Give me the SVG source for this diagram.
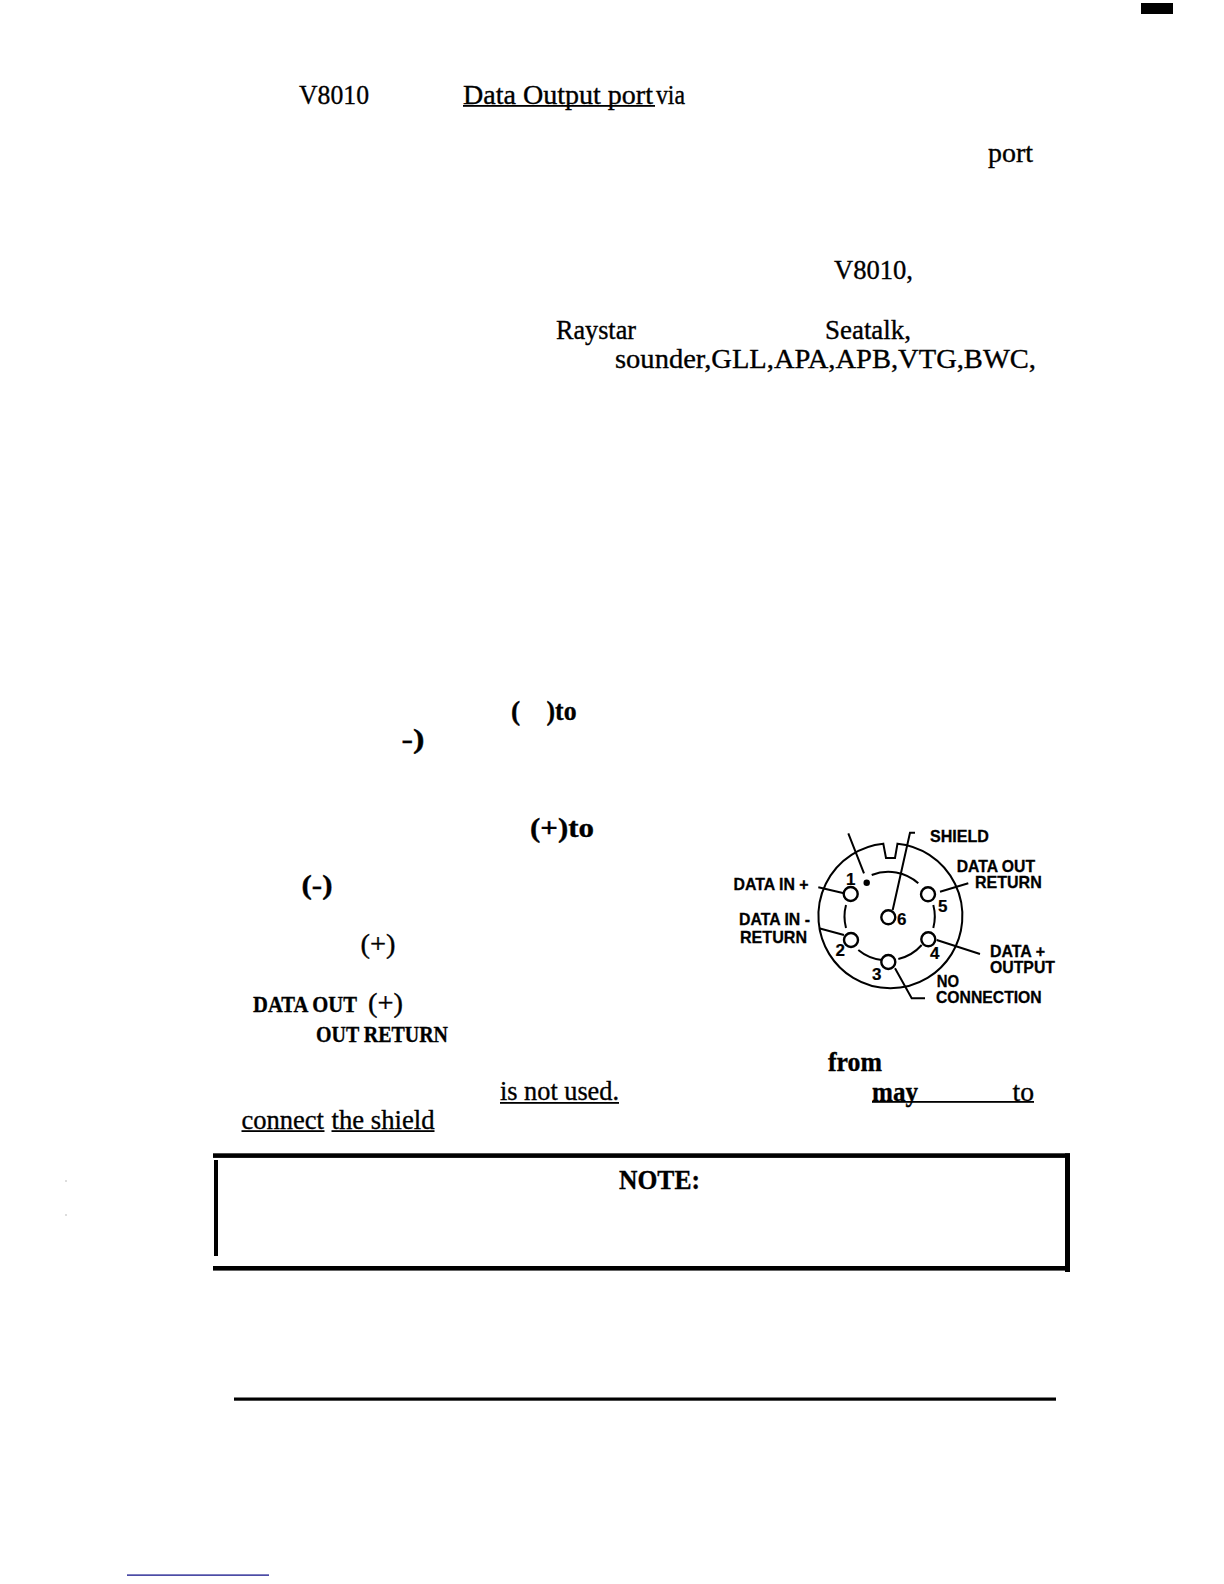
<svg xmlns="http://www.w3.org/2000/svg" width="1224" height="1584" viewBox="0 0 1224 1584">
<style>
text{font-family:"Liberation Serif","Times New Roman",serif;font-size:27.5px;fill:#000;stroke:#000;stroke-width:.35}
.b{font-weight:bold}
.l{font-family:"Liberation Sans",Arial,sans-serif;font-weight:bold;font-size:16.5px;stroke-width:.3}
.d{font-family:"Liberation Sans",Arial,sans-serif;font-weight:bold;font-size:17px;stroke-width:.2}
.w{fill:none;stroke:#000;stroke-width:2}
.p{fill:#fff;stroke:#000;stroke-width:2.4}
.k{fill:#000}
</style>
<rect width="1224" height="1584" fill="#fff"/>
<g id="page-text">
<text x="299" y="103.5" textLength="70" lengthAdjust="spacingAndGlyphs">V8010</text>
<text x="463" y="103.5" textLength="190" lengthAdjust="spacingAndGlyphs">Data Output port</text>
<text x="656" y="103.5" textLength="29" lengthAdjust="spacingAndGlyphs">via</text>
<text x="988" y="162" textLength="45" lengthAdjust="spacingAndGlyphs">port</text>
<text x="834" y="279" textLength="79" lengthAdjust="spacingAndGlyphs">V8010,</text>
<text x="556" y="339" textLength="80" lengthAdjust="spacingAndGlyphs">Raystar</text>
<text x="825" y="339" textLength="86" lengthAdjust="spacingAndGlyphs">Seatalk,</text>
<text x="615" y="368" textLength="421" lengthAdjust="spacingAndGlyphs">sounder,GLL,APA,APB,VTG,BWC,</text>
<text class="b" x="511" y="720">(</text>
<text class="b" x="546.5" y="720" textLength="30" lengthAdjust="spacingAndGlyphs">)to</text>
<text class="b" x="401.5" y="748" textLength="23" lengthAdjust="spacingAndGlyphs">-)</text>
<text class="b" x="530" y="836.5" textLength="64" lengthAdjust="spacingAndGlyphs">(+)to</text>
<text class="b" x="301.5" y="894" textLength="31" lengthAdjust="spacingAndGlyphs">(-)</text>
<text x="360.5" y="953" textLength="35" lengthAdjust="spacingAndGlyphs">(+)</text>
<text class="b" x="253" y="1012" textLength="104" lengthAdjust="spacingAndGlyphs" style="font-size:24px">DATA OUT</text>
<text x="368" y="1012" textLength="35" lengthAdjust="spacingAndGlyphs">(+)</text>
<text class="b" x="316" y="1041.5" textLength="132" lengthAdjust="spacingAndGlyphs" style="font-size:24px">OUT RETURN</text>
<text class="b" x="828" y="1070.5" textLength="54" lengthAdjust="spacingAndGlyphs">from</text>
<text x="500" y="1100" textLength="119" lengthAdjust="spacingAndGlyphs">is not used.</text>
<text class="b" x="872" y="1100.5" textLength="46" lengthAdjust="spacingAndGlyphs">may</text>
<text x="1012.5" y="1100.5" textLength="21.5" lengthAdjust="spacingAndGlyphs">to</text>
<text x="241.5" y="1129" textLength="82.5" lengthAdjust="spacingAndGlyphs">connect</text>
<text x="331.5" y="1129" textLength="103" lengthAdjust="spacingAndGlyphs">the shield</text>
<g class="k">
<rect x="463" y="105" width="192" height="1.8"/>
<rect x="500" y="1102" width="119" height="1.8"/>
<rect x="872" y="1101" width="162" height="1.8"/>
<rect x="241.5" y="1130.2" width="83" height="1.8"/>
<rect x="331.5" y="1130.2" width="103" height="1.8"/>
</g>
</g>
<g id="note-box" class="k">
<rect x="213" y="1153.3" width="857" height="4.6"/>
<rect x="214" y="1160" width="4" height="96"/>
<rect x="1065" y="1153.3" width="5" height="118.7"/>
<rect x="213" y="1266" width="852" height="4.6"/>
<text class="b" x="619" y="1189" textLength="81" lengthAdjust="spacingAndGlyphs">NOTE:</text>
</g>
<g id="rules">
<rect x="234" y="1397.5" width="822" height="3.2" fill="#000"/>
<rect x="1141" y="3" width="32" height="11" fill="#000"/>
<rect x="127" y="1574.5" width="142" height="1.2" fill="#000080"/>
<rect x="65.5" y="1180.5" width="1" height="1" fill="#777"/>
<rect x="65.5" y="1214.5" width="1" height="1" fill="#777"/>
</g>
<g id="connectors">
<path class="w" d="M883.3 843.7L886 858H895L897.5 843.7A72 72.5 0 1 1 883.3 843.7Z"/>
<path class="w" d="M871.7 875A45 45 0 0 1 918.3 883.3M846 905A45 45 0 0 0 846 928M858.3 950A45 45 0 0 0 881.7 960M898.3 959A45 45 0 0 0 921.7 945M933.3 905A45 45 0 0 1 933.3 928"/>
<path class="w" d="M848.3 833.3L864 873.3M915 832.7H910L892.7 910M818.3 887.3L844 893.3M819 928.3L844 935M940 891.7L968.3 883.3M936.7 940L980 954M895 968.3L911.7 998.3H925"/>
</g>
<g id="pin-1"><circle class="p" cx="850.7" cy="894" r="7"/><text class="d" x="846" y="885">1</text></g>
<g id="pin-2"><circle class="p" cx="851" cy="940" r="7"/><text class="d" x="835.5" y="956">2</text></g>
<g id="pin-3"><circle class="p" cx="888.3" cy="962" r="7"/><text class="d" x="872" y="980">3</text></g>
<g id="pin-4"><circle class="p" cx="928.3" cy="939.3" r="7"/><text class="d" x="930" y="959">4</text></g>
<g id="pin-5"><circle class="p" cx="928" cy="894.3" r="7"/><text class="d" x="938" y="912">5</text></g>
<g id="pin-6"><circle class="p" cx="888.3" cy="917.3" r="7"/><text class="d" x="897" y="924.5">6</text></g>
<circle id="key-dot" class="k" cx="866.7" cy="882.7" r="3.2"/>
<g id="labels">
<text class="l" x="930" y="842.3" textLength="59" lengthAdjust="spacingAndGlyphs">SHIELD</text>
<text class="l" x="956.7" y="871.7" textLength="78.3" lengthAdjust="spacingAndGlyphs">DATA OUT</text>
<text class="l" x="975" y="887.7" textLength="66.7" lengthAdjust="spacingAndGlyphs">RETURN</text>
<text class="l" x="733.5" y="890" textLength="75" lengthAdjust="spacingAndGlyphs">DATA IN +</text>
<text class="l" x="739" y="925" textLength="71" lengthAdjust="spacingAndGlyphs">DATA IN -</text>
<text class="l" x="740" y="942.7" textLength="67" lengthAdjust="spacingAndGlyphs">RETURN</text>
<text class="l" x="990" y="957.3" textLength="55" lengthAdjust="spacingAndGlyphs">DATA +</text>
<text class="l" x="990" y="973.3" textLength="65" lengthAdjust="spacingAndGlyphs">OUTPUT</text>
<text class="l" x="936.7" y="987.3" textLength="22.3" lengthAdjust="spacingAndGlyphs">NO</text>
<text class="l" x="936" y="1003.3" textLength="105.7" lengthAdjust="spacingAndGlyphs">CONNECTION</text>
</g>
</svg>
